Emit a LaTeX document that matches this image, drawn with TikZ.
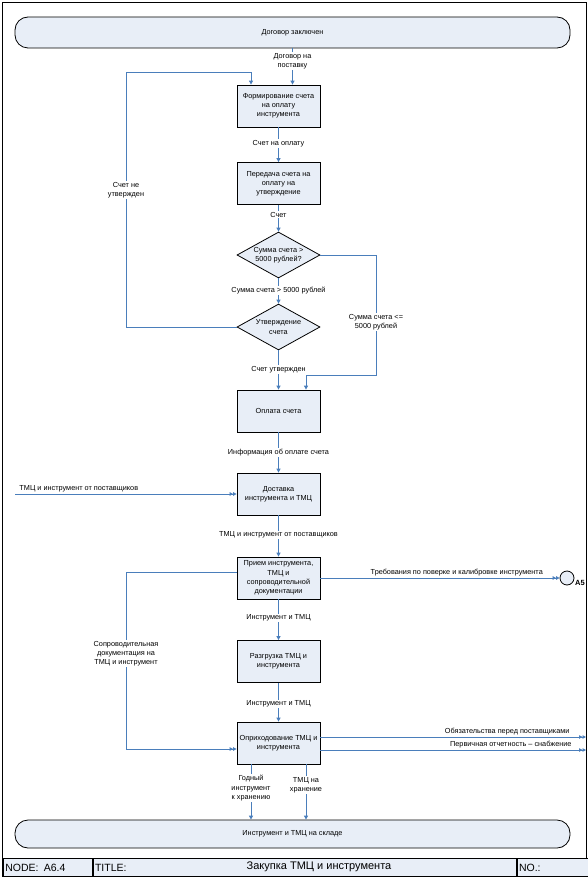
\documentclass[tikz,border=0pt]{standalone}
\usepackage{fontspec}
\setmainfont{Liberation Sans}
\usetikzlibrary{arrows.meta,positioning,shapes.geometric}
\definecolor{idefblue}{HTML}{4A7EBB}
\definecolor{idefFill}{HTML}{E8EEF7}

\begin{document}
\begin{tikzpicture}[x=1pt, y=-1pt,
  box/.style={draw, line width=0.8pt, fill=idefFill, minimum width=83pt, minimum height=42pt, inner sep=1pt, align=center, font=\fontsize{7.3}{9.2}\selectfont},
  decision/.style={box, diamond, aspect=1.8, minimum width=83pt, minimum height=46pt, inner sep=0pt},
  term/.style={draw, line width=0.8pt, fill=idefFill, rounded corners=13pt, minimum width=555pt, font=\fontsize{7.3}{9.2}\selectfont},
  lbl/.style={font=\fontsize{7.3}{9.2}\selectfont, fill=white, inner sep=1pt, align=center},
  arr/.style={draw=idefblue, line width=1pt, -{Triangle[length=4pt,width=4pt]}},
  darr/.style={arr, -{Triangle[length=3.5pt,width=3.5pt]Triangle[length=3.5pt,width=3.5pt]}},
  foot/.style={draw, line width=0.8pt, fill=idefFill, minimum height=18pt, anchor=north west, inner sep=2pt, font=\fontsize{10.5}{12}\selectfont}
]
\useasboundingbox (0,0) rectangle (588,877);
\draw[line width=0.8pt] (2,2) rectangle (586,876);

% terminals
\node[term, minimum height=31pt] (dz) at (292.5,32.5) {Договор заключен};
\node[term, minimum height=28pt] (sklad) at (292.5,834) {Инструмент и ТМЦ на складе};

% process chain
\node[box] (form) at (278.5,106) {Формирование счета\\на оплату\\инструмента};
\node[box] (pered) at (278.5,183.5) {Передача счета на\\оплату на\\утверждение};
\node[decision] (summa) at (278.5,255) {Сумма счета >\\5000 рублей?};
\node[decision] (utv) at (278.5,327) {Утверждение\\счета};
\node[box] (opl) at (278.5,411) {Оплата счета};
\node[box] (dost) at (278.5,494) {Доставка\\инструмента и ТМЦ};
\node[box] (priem) at (278.5,578) {Прием инструмента,\\ТМЦ и\\сопроводительной\\документации};
\node[box] (razg) at (278.5,661.5) {Разгрузка ТМЦ и\\инструмента};
\node[box] (oprih) at (278.5,743) {Оприходование ТМЦ и\\инструмента};

% off-page reference
\node[circle, draw, line width=0.8pt, fill=idefFill, minimum size=14pt, inner sep=0pt] (a5) at (567,578) {};
\node[font=\fontsize{7.5}{9}\selectfont\bfseries, inner sep=0pt] (a5t) at (580,583) {A5};

% helper coordinates
\coordinate (loopA) at (126,73);
\coordinate (loopB) at (251,73);
\coordinate (malo) at (376,375);
\coordinate (oplR) at ([xshift=27.5pt]opl.north);
\coordinate (vhod) at (15,494);
\coordinate (soprov) at (126,749);
\coordinate (out1) at (586,737);
\coordinate (out2) at (586,750);

% main flow
\draw[arr] (dz.south) -- node[lbl, pos=0.35]{Договор на\\поставку} (dz.south |- form.north);
\draw[arr] (form) -- node[lbl, pos=0.46]{Счет на оплату} (pered);
\draw[arr] (pered) -- node[lbl, pos=0.37]{Счет} (summa);
\draw[arr] (summa) -- node[lbl, pos=0.48]{Сумма счета > 5000 рублей} (utv);
\draw[arr] (utv) -- node[lbl, pos=0.49]{Счет утвержден} (opl);
\draw[arr] (opl) -- node[lbl, pos=0.49]{Информация об оплате счета} (dost);
\draw[arr] (dost) -- node[lbl, pos=0.48]{ТМЦ и инструмент от поставщиков} (priem);
\draw[arr] (priem) -- node[lbl, pos=0.46]{Инструмент и ТМЦ} (razg);
\draw[arr] (razg) -- node[lbl, pos=0.54]{Инструмент и ТМЦ} (oprih);

% loops and branches
\draw[arr] (utv.west) -| node[lbl, pos=0.77]{Счет не\\утвержден} (loopA) -- (loopB) -- (loopB |- form.north);
\draw[arr] (summa.east) -| node[lbl, pos=0.78]{Сумма счета <=\\5000 рублей} (malo) -- (malo -| oplR) -- (oplR);
\draw[darr] (vhod) -- node[lbl, fill=none, anchor=south west, pos=0, xshift=3pt]{ТМЦ и инструмент от поставщиков} (dost.west |- vhod);
\draw[darr] (priem.east) -- node[lbl, fill=none, anchor=south, pos=0.57]{Требования по поверке и калибровке инструмента} (a5.west);
\draw[darr] ([yshift=6pt]priem.west) -| node[lbl, pos=0.73]{Сопроводительная\\документация на\\ТМЦ и инструмент} (soprov) -- (soprov -| oprih.west);

% outputs
\draw[darr] (oprih.east |- out1) -- node[lbl, fill=none, anchor=south east, pos=1, xshift=-15pt]{Обязательства перед поставщиками} (out1);
\draw[darr] (oprih.east |- out2) -- node[lbl, fill=none, anchor=south east, pos=1, xshift=-13pt]{Первичная отчетность – снабжение} (out2);
\draw[arr] ([xshift=-27.5pt]oprih.south) -- node[lbl, pos=0.43]{Годный\\инструмент\\к хранению} ([xshift=-27.5pt]oprih.south |- sklad.north);
\draw[arr] ([xshift=27.5pt]oprih.south) -- node[lbl, pos=0.375]{ТМЦ на\\хранение} ([xshift=27.5pt]oprih.south |- sklad.north);

% footer
\node[foot, minimum width=89pt, text width=85pt, align=left] (fnode) at (3,858) {NODE:\enspace A6.4};
\node[foot, minimum width=423pt] (ftitle) at (fnode.north east) {};
\node[foot, minimum width=71pt, text width=67pt, align=left] (fno) at (ftitle.north east) {NO.:};
\node[font=\fontsize{10.5}{12}\selectfont, anchor=west, inner sep=2pt] (ttl) at (ftitle.west) {TITLE:};
\node[font=\fontsize{11}{13}\selectfont] (tname) at (319,867) {Закупка ТМЦ и инструмента};
\end{tikzpicture}
\end{document}
